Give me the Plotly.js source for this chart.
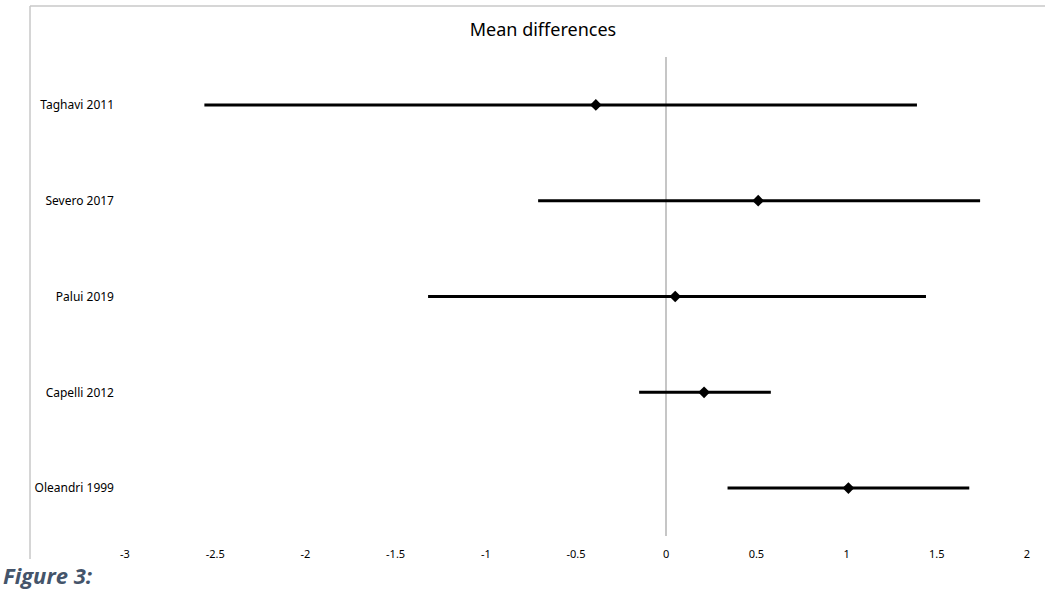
<!DOCTYPE html>
<html>
<head>
<meta charset="utf-8">
<script src="https://cdn.plot.ly/plotly-3.0.1.min.js"></script>
<style>html,body{margin:0;padding:0;background:#fff;}#chart{width:1045px;height:610px;}</style>
</head>
<body>
<div id="chart"></div>
<script>
// Data
const studies = ["Taghavi 2011", "Severo 2017", "Palui 2019", "Capelli 2012", "Oleandri 1999"];
const meanDiff = [-0.39, 0.51, 0.05, 0.21, 1.01];
const ciLower = [-2.56, -0.71, -1.32, -0.15, 0.34];
const ciUpper = [1.39, 1.74, 1.44, 0.58, 1.68];
const xTicks = [-3, -2.5, -2, -1.5, -1, -0.5, 0, 0.5, 1, 1.5, 2];

const yPos = studies.map((_, i) => studies.length - i);

const trace = {
  type: 'scatter',
  mode: 'markers',
  x: meanDiff,
  y: yPos,
  marker: {symbol: 'diamond', size: 9, color: '#000'},
  error_x: {
    type: 'data',
    symmetric: false,
    array: meanDiff.map((m, i) => ciUpper[i] - m),
    arrayminus: meanDiff.map((m, i) => m - ciLower[i]),
    color: '#000',
    thickness: 3,
    width: 0
  },
  hoverinfo: 'x+y'
};

const layout = {
  width: 1045, height: 610,
  margin: {l: 125, r: 18, t: 57, b: 74},
  paper_bgcolor: '#fff', plot_bgcolor: '#fff',
  showlegend: false,
  title: {
    text: 'Mean differences',
    font: {family: 'Noto Sans, Liberation Sans, sans-serif', size: 18, color: '#000'},
    x: 0.4634, xref: 'paper', xanchor: 'center',
    y: 0.952, yref: 'container', yanchor: 'middle'
  },
  xaxis: {
    range: [-3, 2],
    tickvals: xTicks,
    ticktext: xTicks.map(String),
    showgrid: false,
    zeroline: true, zerolinecolor: '#c6c6c6', zerolinewidth: 1.5,
    showline: false,
    ticks: '',
    ticklabelstandoff: 10,
    tickfont: {family: 'Noto Sans, Liberation Sans, sans-serif', size: 11, color: '#000'}
  },
  yaxis: {
    range: [0.5, 5.5],
    tickvals: yPos,
    ticktext: studies,
    showgrid: false, zeroline: false, showline: false,
    ticks: '',
    ticklabelstandoff: 10,
    tickfont: {family: 'Noto Sans, Liberation Sans, sans-serif', size: 12, color: '#000'}
  },
  shapes: [
    {type: 'line', xref: 'paper', yref: 'paper', x0: -0.1053, x1: -0.1053, y0: -0.048, y1: 1.1065,
     line: {color: '#c8c8c8', width: 1.5}},
    {type: 'line', xref: 'paper', yref: 'paper', x0: -0.1053, x1: 1.03, y0: 1.1065, y1: 1.1065,
     line: {color: '#c8c8c8', width: 1.5}}
  ],
  annotations: [
    {text: '<b><i>Figure 3:</i></b>', xref: 'paper', yref: 'paper', x: -0.1375, y: -0.0814,
     xanchor: 'left', yanchor: 'middle', showarrow: false,
     font: {family: 'Open Sans, Noto Sans, sans-serif', size: 22, color: '#44546A'}}
  ]
};

Plotly.newPlot('chart', [trace], layout, {displayModeBar: false, staticPlot: true});
</script>
</body>
</html>
